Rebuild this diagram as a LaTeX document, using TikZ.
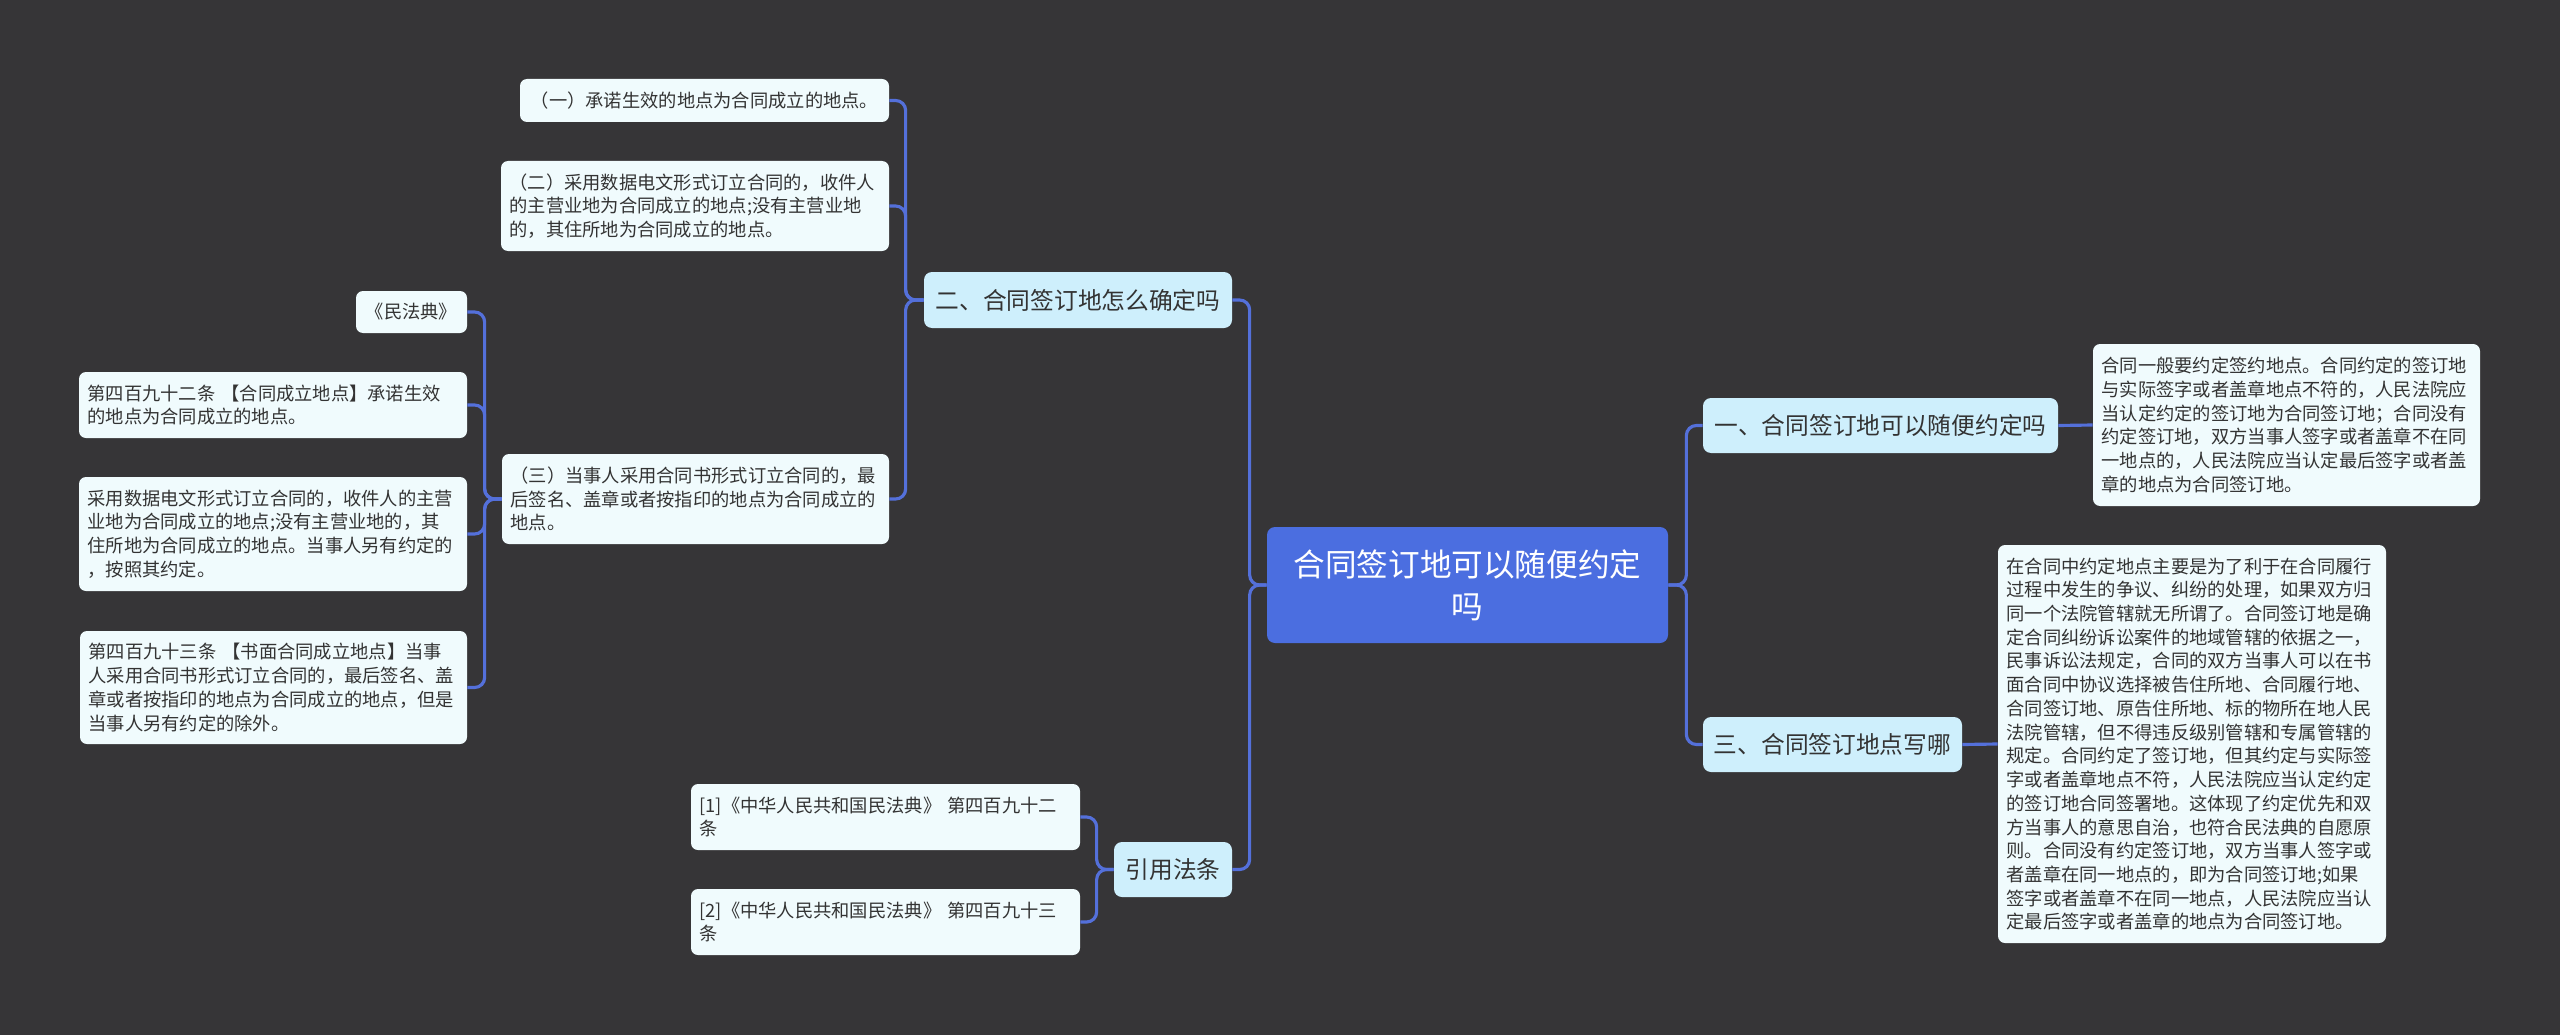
\documentclass[tikz,border=0pt]{standalone}
\usepackage{fontspec}
\newfontfamily\cjk{Noto Sans CJK SC}
\usetikzlibrary{positioning}
\usepackage{xcolor}
\definecolor{bgdark}{RGB}{54,53,55}
\definecolor{rootblue}{RGB}{75,110,224}
\definecolor{linkblue}{RGB}{84,112,218}
\definecolor{topicfill}{RGB}{206,239,252}
\definecolor{leaffill}{RGB}{240,251,253}
\definecolor{inkdark}{RGB}{51,51,51}

\begin{document}
\begin{tikzpicture}[
  rootbox/.style={fill=rootblue, text=white, rounded corners=0.16cm, align=center,
    font=\cjk\fontsize{18}{23.7}\selectfont, inner sep=0pt},
  topicbox/.style={fill=topicfill, text=inkdark, rounded corners=0.16cm, align=center,
    font=\cjk\fontsize{13.5}{16}\selectfont, inner sep=0pt},
  leafbox/.style={fill=leaffill, text=inkdark, rounded corners=0.14cm, align=left,
    font=\cjk\fontsize{10.4}{13.5}\selectfont, inner xsep=0.17cm, inner ysep=0pt},
  link/.style={draw=linkblue, line width=1.8pt, rounded corners=0.2cm}]
  % dark canvas, fixes the margins
  \fill[bgdark] (0,0) rectangle (51.2,-20.7);
  % centre topic
  \node[rootbox, minimum width=8.02cm, minimum height=2.32cm] (root) at (29.35,-11.70)
    {合同签订地可以随便约定\\吗};
  % left branch: how the place is fixed
  \node[topicbox, minimum width=6.16cm, minimum height=1.12cm] (howto) at (21.56,-6.00)
    {二、合同签订地怎么确定吗};
  \node[leafbox, align=center, minimum width=7.38cm, minimum height=0.86cm] (ruleone) at (14.09,-2.01)
    {（一）承诺生效的地点为合同成立的地点。};
  \node[leafbox, text width=7.42cm, minimum height=1.80cm] (ruletwo) at (13.90,-4.12)
    {（二）采用数据电文形式订立合同的，收件人\\的主营业地为合同成立的地点;没有主营业地\\的，其住所地为合同成立的地点。};
  \node[leafbox, text width=7.40cm, minimum height=1.80cm] (rulethree) at (13.91,-9.98)
    {（三）当事人采用合同书形式订立合同的，最\\后签名、盖章或者按指印的地点为合同成立的\\地点。};
  % civil code notes under the third rule
  \node[leafbox, align=center, minimum width=2.22cm, minimum height=0.84cm] (code) at (8.23,-6.24)
    {《民法典》};
  \node[leafbox, text width=7.42cm, minimum height=1.32cm] (art492) at (5.46,-8.10)
    {第四百九十二条 【合同成立地点】承诺生效\\的地点为合同成立的地点。};
  \node[leafbox, text width=7.42cm, minimum height=2.28cm] (datamsg) at (5.46,-10.68)
    {采用数据电文形式订立合同的，收件人的主营\\业地为合同成立的地点;没有主营业地的，其\\住所地为合同成立的地点。当事人另有约定的\\，按照其约定。};
  \node[leafbox, text width=7.40cm, minimum height=2.26cm] (art493) at (5.47,-13.75)
    {第四百九十三条 【书面合同成立地点】当事\\人采用合同书形式订立合同的，最后签名、盖\\章或者按指印的地点为合同成立的地点，但是\\当事人另有约定的除外。};
  % cited articles
  \node[topicbox, minimum width=2.36cm, minimum height=1.10cm] (cite) at (23.46,-17.39)
    {引用法条};
  \node[leafbox, text width=7.44cm, minimum height=1.32cm] (citeone) at (17.71,-16.34)
    {[1]《中华人民共和国民法典》 第四百九十二\\条};
  \node[leafbox, text width=7.44cm, minimum height=1.32cm] (citetwo) at (17.71,-18.44)
    {[2]《中华人民共和国民法典》 第四百九十三\\条};
  % right branch
  \node[topicbox, minimum width=7.10cm, minimum height=1.10cm] (free) at (37.61,-8.51)
    {一、合同签订地可以随便约定吗};
  \node[leafbox, text width=7.40cm, minimum height=3.24cm] (freetext) at (45.73,-8.50)
    {合同一般要约定签约地点。合同约定的签订地\\与实际签字或者盖章地点不符的，人民法院应\\当认定约定的签订地为合同签订地；合同没有\\约定签订地，双方当事人签字或者盖章不在同\\一地点的，人民法院应当认定最后签字或者盖\\章的地点为合同签订地。};
  \node[topicbox, minimum width=5.18cm, minimum height=1.10cm] (where) at (36.65,-14.89)
    {三、合同签订地点写哪};
  \node[leafbox, text width=7.42cm, minimum height=7.96cm] (wheretext) at (43.84,-14.88)
    {在合同中约定地点主要是为了利于在合同履行\\过程中发生的争议、纠纷的处理，如果双方归\\同一个法院管辖就无所谓了。合同签订地是确\\定合同纠纷诉讼案件的地域管辖的依据之一，\\民事诉讼法规定，合同的双方当事人可以在书\\面合同中协议选择被告住所地、合同履行地、\\合同签订地、原告住所地、标的物所在地人民\\法院管辖，但不得违反级别管辖和专属管辖的\\规定。合同约定了签订地，但其约定与实际签\\字或者盖章地点不符，人民法院应当认定约定\\的签订地合同签署地。这体现了约定优先和双\\方当事人的意思自治，也符合民法典的自愿原\\则。合同没有约定签订地，双方当事人签字或\\者盖章在同一地点的，即为合同签订地;如果\\签字或者盖章不在同一地点，人民法院应当认\\定最后签字或者盖章的地点为合同签订地。};
  % connectors
  \draw[link] (root.west) -- ++(-0.34,0) |- (howto.east);
  \draw[link] (root.west) -- ++(-0.34,0) |- (cite.east);
  \draw[link] (root.east) -- ++(0.36,0) |- (free.west);
  \draw[link] (root.east) -- ++(0.36,0) |- (where.west);
  \foreach \leaf in {ruleone, ruletwo, rulethree}
    \draw[link] (howto.west) -- ++(-0.36,0) |- (\leaf.east);
  \foreach \leaf in {code, art492, datamsg, art493}
    \draw[link] (rulethree.west) -- ++(-0.34,0) |- (\leaf.east);
  \foreach \leaf in {citeone, citetwo}
    \draw[link] (cite.west) -- ++(-0.34,0) |- (\leaf.east);
  \draw[link] (free.east) -- (freetext.west);
  \draw[link] (where.east) -- (wheretext.west);
\end{tikzpicture}
\end{document}
